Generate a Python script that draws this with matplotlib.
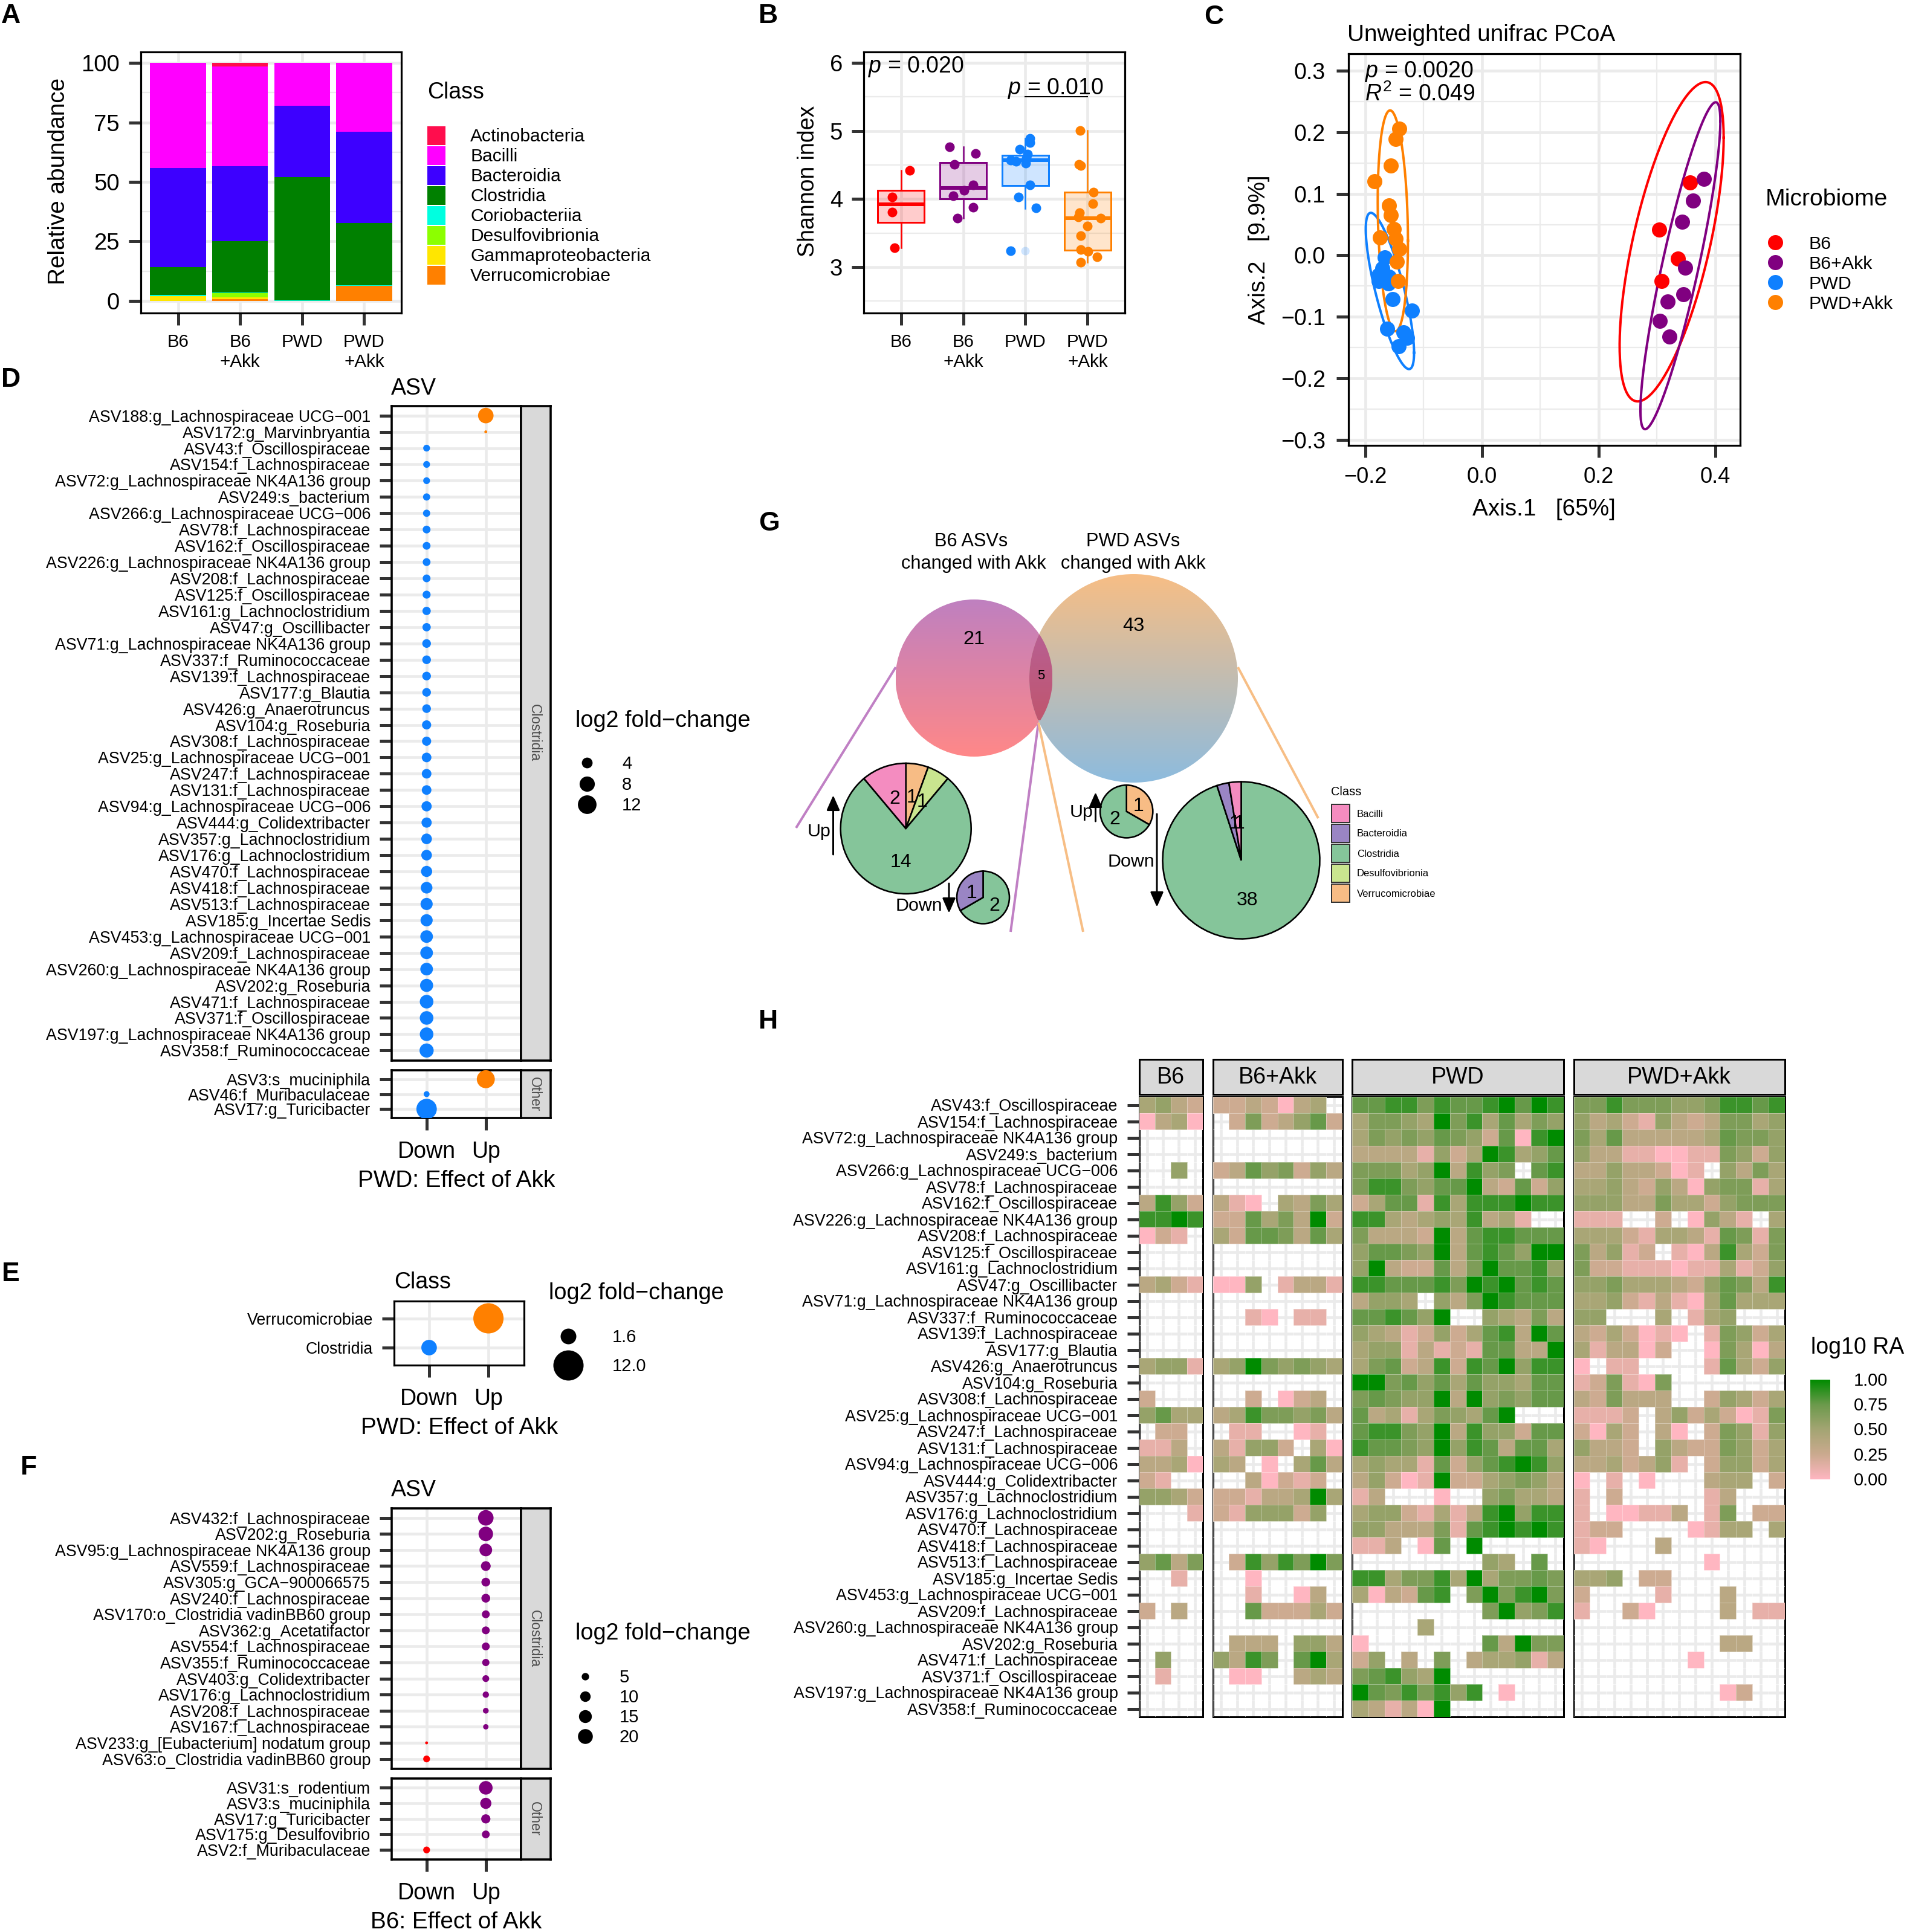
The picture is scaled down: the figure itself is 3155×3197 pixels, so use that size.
import numpy as np
import matplotlib
matplotlib.use("Agg")
import matplotlib.pyplot as plt
from matplotlib.patches import Rectangle, Circle, PathPatch
from matplotlib.path import Path
from matplotlib.colors import LinearSegmentedColormap

W, H, DPI = 3155, 3197, 300
plt.rcParams.update({
    'font.family': ['Liberation Sans', 'DejaVu Sans'], 'axes.unicode_minus': True,
    'mathtext.fontset': 'custom', 'mathtext.rm': 'Liberation Sans',
    'mathtext.it': 'Liberation Sans:italic', 'mathtext.bf': 'Liberation Sans:bold',
})
px = 72 / DPI
GRID, TICK = '#EBEBEB', '#333333'

# ---------- data ----------
classes = ['Actinobacteria', 'Bacilli', 'Bacteroidia', 'Clostridia', 'Coriobacteriia',
           'Desulfovibrionia', 'Gammaproteobacteria', 'Verrucomicrobiae']
class_cols = ['#FF0D4D', '#FF00FF', '#3D00FF', '#008000', '#00FFE0', '#8CFF00', '#FFE600', '#FF8000']
groups = ['B6', 'B6\n+Akk', 'PWD', 'PWD\n+Akk']
grp_cols = ['#FF0000', '#800080', '#0F80FF', '#FF8000']
ab_verr = [0, 0.8, 0, 6.3]
ab_gamma = [2.0, 0.8, 0, 0]
ab_desulf = [0.05, 1.6, 0, 0]
ab_corio = [0.35, 0.3, 0.2, 0.2]
ab_clost = [11.9, 21.5, 51.8, 26.2]
ab_bacter = [41.6, 31.6, 30.0, 38.3]
ab_bacil = [44.1, 42.0, 18.0, 29.0]
ab_actino = [0, 1.4, 0, 0]

sh_x = [[0.86, 1.14, 0.86, 0.90],
        [1.78, 2.20, 1.86, 2.16, 2.01, 1.84, 2.16, 1.91],
        [3.07, 3.07, 2.91, 3.03, 3.02, 2.76, 2.85, 3.01, 3.07, 2.89, 3.17, 2.76],
        [3.88, 3.86, 3.89, 4.09, 4.08, 3.87, 3.85, 4.21, 4.00, 3.89, 3.89, 4.01, 4.15, 3.89]]
sh_y = [[4.03, 4.42, 3.81, 3.28],
        [4.77, 4.67, 4.51, 4.21, 4.13, 4.05, 3.88, 3.72],
        [4.89, 4.83, 4.73, 4.66, 4.60, 4.57, 4.55, 4.53, 4.21, 4.03, 3.87, 3.24],
        [5.01, 4.51, 4.49, 4.10, 3.93, 3.80, 3.74, 3.72, 3.60, 3.46, 3.26, 3.23, 3.15, 3.07]]
box_q1 = [3.66, 4.00, 4.20, 3.25]
box_med = [3.92, 4.16, 4.57, 3.72]
box_q3 = [4.13, 4.54, 4.64, 4.10]
box_lo = [3.28, 3.72, 3.86, 3.07]
box_hi = [4.42, 4.77, 4.89, 5.01]
box_out = [[], [], [3.24], []]

pc_x = [[0.356, 0.304, 0.336, 0.308],
        [0.380, 0.362, 0.343, 0.348, 0.345, 0.318, 0.305, 0.321],
        [-0.167, -0.171, -0.177, -0.160, -0.177, -0.161, -0.153, -0.120, -0.163, -0.135, -0.129, -0.143],
        [-0.142, -0.148, -0.156, -0.184, -0.160, -0.156, -0.151, -0.148, -0.175, -0.142, -0.146, -0.144]]
pc_y = [[0.118, 0.042, -0.005, -0.042],
        [0.124, 0.089, 0.054, -0.020, -0.063, -0.075, -0.107, -0.132],
        [-0.004, -0.021, -0.032, -0.035, -0.042, -0.046, -0.071, -0.090, -0.119, -0.125, -0.134, -0.148],
        [0.206, 0.189, 0.146, 0.120, 0.081, 0.065, 0.043, 0.027, 0.029, 0.010, -0.010, -0.042]]
ell_cx = [0.325, 0.340, -0.158, -0.153]
ell_cy = [0.022, -0.017, -0.058, 0.056]
ell_rx = [0.0892, 0.0685, 0.0414, 0.0259]
ell_ry = [0.2595, 0.2657, 0.1270, 0.1795]
ell_r = [0.652, 0.884, -0.79, -0.18]
micro = ['B6', 'B6+Akk', 'PWD', 'PWD+Akk']

d_clost = ['ASV188:g_Lachnospiraceae UCG\u2212001', 'ASV172:g_Marvinbryantia', 'ASV43:f_Oscillospiraceae',
           'ASV154:f_Lachnospiraceae', 'ASV72:g_Lachnospiraceae NK4A136 group', 'ASV249:s_bacterium',
           'ASV266:g_Lachnospiraceae UCG\u2212006', 'ASV78:f_Lachnospiraceae', 'ASV162:f_Oscillospiraceae',
           'ASV226:g_Lachnospiraceae NK4A136 group', 'ASV208:f_Lachnospiraceae', 'ASV125:f_Oscillospiraceae',
           'ASV161:g_Lachnoclostridium', 'ASV47:g_Oscillibacter', 'ASV71:g_Lachnospiraceae NK4A136 group',
           'ASV337:f_Ruminococcaceae', 'ASV139:f_Lachnospiraceae', 'ASV177:g_Blautia', 'ASV426:g_Anaerotruncus',
           'ASV104:g_Roseburia', 'ASV308:f_Lachnospiraceae', 'ASV25:g_Lachnospiraceae UCG\u2212001',
           'ASV247:f_Lachnospiraceae', 'ASV131:f_Lachnospiraceae', 'ASV94:g_Lachnospiraceae UCG\u2212006',
           'ASV444:g_Colidextribacter', 'ASV357:g_Lachnoclostridium', 'ASV176:g_Lachnoclostridium',
           'ASV470:f_Lachnospiraceae', 'ASV418:f_Lachnospiraceae', 'ASV513:f_Lachnospiraceae',
           'ASV185:g_Incertae Sedis', 'ASV453:g_Lachnospiraceae UCG\u2212001', 'ASV209:f_Lachnospiraceae',
           'ASV260:g_Lachnospiraceae NK4A136 group', 'ASV202:g_Roseburia', 'ASV471:f_Lachnospiraceae',
           'ASV371:f_Oscillospiraceae', 'ASV197:g_Lachnospiraceae NK4A136 group', 'ASV358:f_Ruminococcaceae']
d_clost_fc = [8.3, 0.3, 1.6, 1.6, 1.6, 1.8, 1.8, 2.1, 2.1, 2.1, 2.1, 2.2, 2.4, 2.4, 2.6, 2.6, 2.6, 2.6, 2.6, 2.9,
              2.9, 3.2, 3.2, 3.2, 3.6, 3.6, 3.9, 3.9, 4.3, 4.7, 5.1, 5.1, 5.5, 5.5, 5.5, 5.9, 6.4, 6.4, 6.4, 6.9]
d_clost_up = [1, 1] + [0] * 38
d_other = ['ASV3:s_muciniphila', 'ASV46:f_Muribaculaceae', 'ASV17:g_Turicibacter']
d_other_fc = [11.2, 1.2, 14.4]
d_other_up = [1, 0, 0]

f_clost = ['ASV432:f_Lachnospiraceae', 'ASV202:g_Roseburia', 'ASV95:g_Lachnospiraceae NK4A136 group',
           'ASV559:f_Lachnospiraceae', 'ASV305:g_GCA\u2212900066575', 'ASV240:f_Lachnospiraceae',
           'ASV170:o_Clostridia vadinBB60 group', 'ASV362:g_Acetatifactor', 'ASV554:f_Lachnospiraceae',
           'ASV355:f_Ruminococcaceae', 'ASV403:g_Colidextribacter', 'ASV176:g_Lachnoclostridium',
           'ASV208:f_Lachnospiraceae', 'ASV167:f_Lachnospiraceae', 'ASV233:g_[Eubacterium] nodatum group',
           'ASV63:o_Clostridia vadinBB60 group']
f_clost_fc = [21.8, 19, 14.5, 8.6, 7, 7, 5.6, 5.6, 5.6, 4.8, 4.2, 3.6, 3, 2.6, 0.76, 4.2]
f_clost_up = [1] * 14 + [0, 0]
f_other = ['ASV31:s_rodentium', 'ASV3:s_muciniphila', 'ASV17:g_Turicibacter', 'ASV175:g_Desulfovibrio',
           'ASV2:f_Muribaculaceae']
f_other_fc = [16.7, 11.3, 7.7, 5.5, 4.2]
f_other_up = [1, 1, 1, 1, 0]

e_class = ['Verrucomicrobiae', 'Clostridia']
e_px = [50, 25.7]
e_up = [1, 0]

hm_labels = d_clost[2:]
hm_b6 = ['4532', '0340', '....', '....', '..5.', '....', '3852', '8898', '021.', '....', '....', '3421', '....',
         '....', '....', '....', '4551', '....', '2...', '5744', '.22.', '113.', '3340', '21..', '5542', '...1',
         '....', '....', '5736', '..1.', '....', '2.3.', '....', '....', '.5..', '.1..', '....', '....']
hm_b6a = ['2232034.', '.2623572', '........', '........', '23756253', '........', '310.4364', '22746392',
          '42776374', '........', '........', '005.1331', '........', '..10.11.', '........', '........',
          '45965654', '........', '..2.023.', '34866563', '.11..01.', '31552.40', '43.0.473', '..30212.',
          '22133494', '2155525.', '........', '........', '.2858696', '..0.....', '..1..03.', '..722242',
          '........', '.333.553', '5386.794', '.00..343', '........', '........']
hm_pwd = ['7788687789798', '4665496847465', '4656576527089', '3333152498457', '6664593856.78', '6886577932725',
          '2477184888988', '88434548341..', '6333293788777', '5776593787599', '5932273697785', '8877786989787',
          '3554.53698777', '778759..54363', '5431252478397', '4551312177339', '4672382879588', '9967574755477',
          '6765593956577', '7341465479...', '7886593855277', '8776595873774', '4544172578985', '3520192245653',
          '13...0..56443', '4552141389588', '5533361789898', '113.07.9.....', '........54.7.', '8846684946676',
          '403278.696896', '........69568', '....4........', '0.......73966', '25.3.6.344513', '678549.......',
          '97686858.0...', '431309.......']
hm_pwa = ['6686665568878', '5342153236645', '6473333347665', '5331100116525', '33533201.5364', '4453253056614',
          '5553364425666', '111..2.0531.4', '4442144317616', '63512.1038426', '6221110114125', '5564443257638',
          '4452131047444', '55...4.145...', '3242010.16524', '413302..06403', '0.11....17425', '126106.......',
          '326333..25424', '1112.35242016', '2042.30.26515', '5332.53226524', '3342351.25524', '0.1.0...344.2',
          '1.2.....13...', '1.00113.16.22', '122....0144.4', '10...3.......', '........0....', '445.22.......',
          '2....1...3...', '1..20....3.11', '.............', '.........33..', '.......0.....', '.............',
          '.........02..', '.............']
hm_levels = [0.0, 0.12, 0.24, 0.36, 0.47, 0.57, 0.67, 0.76, 0.86, 1.0]

pie_b6_up = [1, 1, 14, 2]
pie_b6_dn = [2, 1]
pie_pwd_up = [1, 2]
pie_pwd_dn = [38, 1, 1]
PIE = {'Bacilli': '#F48CC0', 'Bacteroidia': '#9A85C4', 'Clostridia': '#85C59A',
       'Desulfovibrionia': '#C9E58F', 'Verrucomicrobiae': '#F7BC85'}

cmap = LinearSegmentedColormap.from_list('ra', [(0, '#FFB6C1'), (.25, '#CBAA8F'), (.5, '#A4A573'),
                                                (.75, '#6C9A4C'), (1, '#008B00')])

# ---------- helpers ----------
fig = plt.figure(figsize=(W / DPI, H / DPI), dpi=DPI, facecolor='white')


def box(l, t, r, b, **kw):
    return fig.add_axes([l / W, 1 - b / H, (r - l) / W, (b - t) / H], **kw)


def style(ax, fs_x=9.2, fs_y=9.2, lw=3.2):
    for s in ax.spines.values():
        s.set_linewidth(lw * px)
        s.set_color('black')
    ax.tick_params(axis='both', which='major', length=20 * px, width=5 * px, color=TICK, pad=15 * px)
    ax.tick_params(axis='x', labelsize=fs_x)
    ax.tick_params(axis='y', labelsize=fs_y)
    ax.tick_params(axis='both', which='minor', length=0)
    ax.set_axisbelow(True)
    ax.grid(True, which='major', color=GRID, lw=4.6 * px)
    ax.grid(True, which='minor', color=GRID, lw=2.3 * px)


ov = fig.add_axes([0, 0, 1, 1], zorder=5)
ov.set_xlim(0, W)
ov.set_ylim(H, 0)
ov.axis('off')
ov.patch.set_alpha(0)


def T(x, y, s, fs=9, ha='left', va='center', **kw):
    return ov.text(x, y + 3, s, fontsize=fs, ha=ha, va=va, **kw)


def dia(d):
    return (d * px) ** 2


for lab, x, y in zip('ABCDEFGH', [2, 1255, 1992, 2, 3, 34, 1255, 1255], [24, 24, 25, 625, 2106, 2426, 864, 1687]):
    T(x, y, lab, fs=10.7, fontweight='bold')

# ---------- A ----------
ax = box(233, 86, 664, 517.5)
style(ax)
xs = np.arange(1, 5)
bot = np.zeros(4)
stack = [ab_verr, ab_gamma, ab_desulf, ab_corio, ab_clost, ab_bacter, ab_bacil, ab_actino]
for v, c in zip(stack, class_cols[::-1]):
    ax.bar(xs, v, 0.9, bottom=bot, color=c, lw=0)
    bot = bot + np.array(v)
ax.set_xlim(0.4, 4.6)
ax.set_ylim(-5, 104.6)
ax.set_xticks(xs, groups, fontsize=7.1)
ax.set_yticks([0, 25, 50, 75, 100])
ax.set_yticks([12.5, 37.5, 62.5, 87.5], minor=True)
T(97, 297, 'Relative abundance', fs=9.3, rotation=90, ha='center')
T(707, 150, 'Class', fs=9)
for i, (n, c) in enumerate(zip(classes, class_cols)):
    ov.add_patch(Rectangle((707, 209 + 33.05 * i), 30, 30.6, color=c, lw=0))
    T(778, 223 + 33.05 * i, n, fs=7.2)

# ---------- B ----------
ax = box(1429, 86, 1861, 517.5)
style(ax)
for i in range(4):
    stats = [dict(med=box_med[i], q1=box_q1[i], q3=box_q3[i], whislo=box_lo[i], whishi=box_hi[i], fliers=box_out[i])]
    c = grp_cols[i]
    ax.bxp(stats, positions=[i + 1], widths=0.75, patch_artist=True, showcaps=False,
           boxprops=dict(facecolor=matplotlib.colors.to_rgba(c, .2), edgecolor=c, lw=3 * px),
           medianprops=dict(color=c, lw=6 * px), whiskerprops=dict(color=c, lw=2.5 * px),
           flierprops=dict(marker='o', ms=14 * px, mfc=matplotlib.colors.to_rgba(c, .2), mec='none'),
           manage_ticks=False)
    ax.scatter(sh_x[i], sh_y[i], s=dia(16), color=c, lw=0, zorder=4)
ax.set_xlim(0.4, 4.6)
ax.set_ylim(2.33, 6.16)
ax.set_xticks(xs, groups, fontsize=7.1)
ax.set_yticks([3, 4, 5, 6])
ax.set_yticks([2.5, 3.5, 4.5, 5.5], minor=True)
ax.plot([3, 4], [5.5, 5.5], color='black', lw=2 * px, zorder=5)
T(1436, 107, r'$\mathit{p}$ = 0.020', fs=9)
T(1667, 144, r'$\mathit{p}$ = 0.010', fs=9)
T(1337, 297, 'Shannon index', fs=9, rotation=90, ha='center')

# ---------- C ----------
ax = box(2231, 89, 2879, 737)
style(ax, fs_x=8.7, fs_y=9.0)
ax.tick_params(axis='y', pad=18 * px)
t = np.linspace(0, 2 * np.pi, 200)
for i in range(4):
    d = np.arccos(ell_r[i])
    ax.plot(ell_cx[i] + ell_rx[i] * np.cos(t), ell_cy[i] + ell_ry[i] * np.cos(t - d), color=grp_cols[i], lw=4 * px)
for i in [0, 1, 2, 3]:
    ax.scatter(pc_x[i], pc_y[i], s=dia(25), color=grp_cols[i], lw=0, zorder=4)
ax.set_xlim(-0.229, 0.4425)
ax.set_ylim(-0.309, 0.3275)
ax.set_xticks([-.2, 0, .2, .4], ['\u22120.2', '0.0', '0.2', '0.4'])
ax.set_xticks([-.1, .1, .3], minor=True)
ax.set_yticks([-.3, -.2, -.1, 0, .1, .2, .3], ['\u22120.3', '\u22120.2', '\u22120.1', '0.0', '0.1', '0.2', '0.3'])
ax.set_yticks([-.25, -.15, -.05, .05, .15, .25], minor=True)
T(2229, 55, 'Unweighted unifrac PCoA', fs=9.3)
T(2258, 115, r'$\mathit{p}$ = 0.0020', fs=9)
T(2258, 153, r'$\mathit{R}^2$ = 0.049', fs=9)
T(2554, 840, 'Axis.1   [65%]', fs=9.3, ha='center')
T(2083, 410, 'Axis.2   [9.9%]', fs=9.3, rotation=90, ha='center')
T(2921, 327, 'Microbiome', fs=9.4)
for i, (m, y) in enumerate(zip(micro, [401, 434, 467, 500])):
    ov.scatter([2937], [y], s=dia(25), color=grp_cols[i], lw=0)
    T(2992, y, m, fs=7.3)


# ---------- D / F ----------
def dots(t, b, labels, fc, up, k, down_col, up_col, strip, xtick=False):
    ax = box(648, t, 862, b)
    style(ax, fs_x=9, fs_y=6.43, lw=3.6)
    n = len(labels)
    y = np.arange(n)
    ax.scatter(np.array(up) + 1, y, s=dia(k * np.sqrt(np.array(fc))),
               c=[up_col if u else down_col for u in up], lw=0, zorder=4)
    ax.set_xlim(0.41, 2.595)
    ax.set_ylim(n - 1 + .6, -.6)
    ax.set_yticks(y, labels)
    ax.set_xticks([1, 2], ['Down', 'Up'] if xtick else ['', ''])
    if not xtick:
        ax.tick_params(axis='x', length=0)
    ax.tick_params(axis='x', pad=18 * px)
    sa = box(862, t, 910.5, b)
    sa.set_facecolor('#D9D9D9')
    sa.set_xticks([])
    sa.set_yticks([])
    for s in sa.spines.values():
        s.set_linewidth(3.6 * px)
    sa.text(.47, .5, strip, rotation=270, ha='center', va='center', fontsize=5.5, color='#4D4D4D',
            transform=sa.transAxes)
    return ax


dots(671.5, 1754.5, d_clost, d_clost_fc, d_clost_up, 8.9, grp_cols[2], grp_cols[3], 'Clostridia')
dots(1771, 1850, d_other, d_other_fc, d_other_up, 8.9, grp_cols[2], grp_cols[3], 'Other', True)
T(647, 640, 'ASV', fs=9)
T(755, 1951, 'PWD: Effect of Akk', fs=9.3, ha='center')
T(952, 1190, 'log2 fold\u2212change', fs=9.1)
for v, y in zip([4, 8, 12], [1262, 1297, 1331]):
    ov.scatter([971], [y], s=dia(8.9 * np.sqrt(v)), color='black', lw=0)
    T(1029, y - 1, str(v), fs=7)

dots(2495.7, 2926.6, f_clost, f_clost_fc, f_clost_up, 5.5, grp_cols[0], grp_cols[1], 'Clostridia')
dots(2943, 3076.6, f_other, f_other_fc, f_other_up, 5.5, grp_cols[0], grp_cols[1], 'Other', True)
T(647, 2463.5, 'ASV', fs=9)
T(755, 3178, 'B6: Effect of Akk', fs=9.3, ha='center')
T(952, 2700, 'log2 fold\u2212change', fs=9.1)
for v, y in zip([5, 10, 15, 20], [2773.6, 2806.7, 2839.8, 2872.6]):
    ov.scatter([967.5], [y], s=dia(5.5 * np.sqrt(v)), color='black', lw=0)
    T(1024.6, y - 1, str(v), fs=7)

# ---------- E ----------
ax = box(652, 2152.5, 867, 2259)
style(ax, fs_x=9, fs_y=6.43, lw=3.2)
ax.scatter(np.array(e_up) + 1, [0, 1], s=dia(np.array(e_px)), c=[grp_cols[3], grp_cols[2]], lw=0, zorder=4)
ax.set_xlim(0.41, 2.6)
ax.set_ylim(1.6, -.6)
ax.set_yticks([0, 1], e_class)
ax.set_xticks([1, 2], ['Down', 'Up'])
ax.tick_params(axis='x', pad=18 * px)
T(652, 2119, 'Class', fs=9)
T(760, 2360, 'PWD: Effect of Akk', fs=9.3, ha='center')
T(908, 2137, 'log2 fold\u2212change', fs=9.1)
for v, d, y in zip(['1.6', '12.0'], [26, 50], [2211, 2259]):
    ov.scatter([940], [y], s=dia(d), color='black', lw=0)
    T(1012.5, y - 1, v, fs=7)

# ---------- G ----------
LC, RC = (1611.5, 1122), (1875.5, 1122.5)
LR, RR = 130, 172.5


def grad(c, r, top, bottom, clip):
    top = np.array(matplotlib.colors.to_rgb(top))
    bottom = np.array(matplotlib.colors.to_rgb(bottom))
    f = np.linspace(0, 1, 256)[:, None, None]
    img = top[None, None, :] * (1 - f) + bottom[None, None, :] * f
    im = ov.imshow(img, extent=[c[0] - r, c[0] + r, c[1] + r, c[1] - r], aspect='auto', zorder=1)
    ov.add_patch(clip)
    clip.set_visible(False)
    im.set_clip_path(clip)


grad(LC, LR, '#BF80C0', '#FF8888', Circle(LC, LR, transform=ov.transData))
grad(RC, RR, '#F7BE85', '#8DBBDE', Circle(RC, RR, transform=ov.transData))
dd = RC[0] - LC[0]
a = (dd ** 2 + LR ** 2 - RR ** 2) / (2 * dd)
ang1 = np.arccos(a / LR)
ang2 = np.arccos((dd - a) / RR)
th1 = np.linspace(-ang1, ang1, 60)
th2 = np.linspace(np.pi - ang2, np.pi + ang2, 60)
lens = np.r_[np.c_[LC[0] + LR * np.cos(th1), LC[1] + LR * np.sin(th1)],
             np.c_[RC[0] + RR * np.cos(th2), RC[1] + RR * np.sin(th2)]]
top_l = np.array(matplotlib.colors.to_rgb('#B85F92'))
bot_l = np.array(matplotlib.colors.to_rgb('#C0566E'))
f = np.linspace(0, 1, 256)[:, None, None]
im = ov.imshow(top_l[None, None, :] * (1 - f) + bot_l[None, None, :] * f,
               extent=[1703, 1741, 1192, 1050], aspect='auto', zorder=1.1)
lp = PathPatch(Path(np.r_[lens, lens[:1]], closed=True), transform=ov.transData, visible=False)
ov.add_patch(lp)
im.set_clip_path(lp)
ov.set_xlim(0, W)
ov.set_ylim(H, 0)

for (x0, y0, x1, y1), c in zip([(1482, 1104, 1317, 1370), (1718, 1196, 1672, 1542),
                                (2048, 1104, 2181, 1354), (1718, 1196, 1792, 1542)],
                               ['#C080C4', '#C080C4', '#F7BE85', '#F7BE85']):
    ov.plot([x0, x1], [y0, y1], color=c, lw=4 * px, zorder=2, solid_capstyle='butt')

for x, y, s in [(1607, 893, 'B6 ASVs'), (1611, 930, 'changed with Akk'), (1875, 893, 'PWD ASVs'),
                (1875, 930, 'changed with Akk')]:
    T(x, y, s, fs=7.4, ha='center', zorder=3)
T(1611, 1055, '21', fs=7.8, ha='center', zorder=3)
T(1875, 1033, '43', fs=7.8, ha='center', zorder=3)
T(1722, 1115, '5', fs=5.3, ha='center', zorder=3)


def pie(cx, cy, r, vals, cols):
    a = box(cx - r * 1.03, cy - r * 1.03, cx + r * 1.03, cy + r * 1.03, zorder=6)
    a.pie(vals, colors=cols, startangle=90, counterclock=False, radius=1,
          wedgeprops=dict(edgecolor='black', lw=2.6 * px, clip_on=False))
    a.set_xlim(-1.03, 1.03)
    a.set_ylim(-1.03, 1.03)
    a.patch.set_alpha(0)


pie(1498.7, 1371, 108, pie_b6_up, [PIE['Verrucomicrobiae'], PIE['Desulfovibrionia'], PIE['Clostridia'], PIE['Bacilli']])
pie(1626.5, 1485, 43.5, pie_b6_dn, [PIE['Clostridia'], PIE['Bacteroidia']])
pie(1863.7, 1342.8, 43.6, pie_pwd_up, [PIE['Verrucomicrobiae'], PIE['Clostridia']])
pie(2053.5, 1423.6, 130, pie_pwd_dn, [PIE['Clostridia'], PIE['Bacteroidia'], PIE['Bacilli']])

ovt = fig.add_axes([0, 0, 1, 1], zorder=7)
ovt.set_xlim(0, W)
ovt.set_ylim(H, 0)
ovt.axis('off')
ovt.patch.set_alpha(0)
for x, y, s in [(1480, 1322, '2'), (1508, 1320, '1'), (1525, 1327, '1'), (1490, 1427, '14'), (1607, 1478, '1'),
                (1645, 1499, '2'), (1883, 1334, '1'), (1844, 1356, '2'), (2042, 1363, '1'), (2050, 1363, '1'),
                (2064, 1490, '38')]:
    ovt.text(x, y, s, fontsize=7.7, ha='center', va='center')
for x, y, s in [(1355, 1376, 'Up'), (1520, 1499, 'Down'), (1789, 1344, 'Up'), (1871, 1426, 'Down')]:
    ovt.text(x, y, s, fontsize=7.3, ha='center', va='center')
for x, y0, y1 in [(1378.5, 1414, 1316), (1570, 1462, 1511), (1812.5, 1359, 1311), (1914, 1347, 1501)]:
    ovt.annotate('', xy=(x, y1), xytext=(x, y0),
                 arrowprops=dict(arrowstyle='-|>,head_width=0.22,head_length=0.5', color='black', lw=3 * px,
                                 shrinkA=0, shrinkB=0))
T(2202, 1307, 'Class', fs=4.8)
for i, (n, c) in enumerate(PIE.items()):
    ov.add_patch(Rectangle((2202.7, 1331 + 33 * i), 30, 30, fc=c, ec='#333333', lw=2 * px))
    T(2245, 1344 + 33 * i, n, fs=4)

# ---------- H ----------
panels = [('B6', hm_b6, 1884.5, 1990), ('B6+Akk', hm_b6a, 2006.6, 2220.6),
          ('PWD', hm_pwd, 2237.4, 2586.8), ('PWD+Akk', hm_pwa, 2603.6, 2953)]
for i, (name, rows, l, r) in enumerate(panels):
    arr = np.array([[np.nan if ch == '.' else hm_levels[int(ch)] for ch in row] for row in rows])
    ax = box(l, 1815, r, 2841)
    style(ax, lw=3)
    ax.pcolormesh(np.arange(arr.shape[1] + 1) - .5, np.arange(39) - .5, np.ma.masked_invalid(arr), cmap=cmap,
                  vmin=0, vmax=1, edgecolors=(1, 1, 1, .35), linewidth=1 * px, zorder=3)
    ax.set_xlim(-.5, arr.shape[1] - .5)
    ax.set_ylim(37.5, -.5)
    ax.set_xticks(np.arange(arr.shape[1]), [''] * arr.shape[1])
    ax.tick_params(axis='x', length=0)
    ax.set_yticks(np.arange(38), hm_labels if i == 0 else [''] * 38)
    if i:
        ax.tick_params(axis='y', length=0)
    else:
        ax.tick_params(axis='y', labelsize=6.43)
    sa = box(l, 1753, r, 1811)
    sa.set_facecolor('#D9D9D9')
    sa.set_xticks([])
    sa.set_yticks([])
    for s in sa.spines.values():
        s.set_linewidth(3 * px)
    sa.text(.5, .48, name, ha='center', va='center', fontsize=9, transform=sa.transAxes)

T(2996, 2227, 'log10 RA', fs=9)
cb = box(2995, 2283, 3027.7, 2447.7)
cb.imshow(np.linspace(1, 0, 256)[:, None], cmap=cmap, aspect='auto', extent=[0, 1, 0, 1], vmin=0, vmax=1)
cb.axis('off')
for v, y in zip(['1.00', '0.75', '0.50', '0.25', '0.00'], [2283, 2324, 2365, 2406.7, 2447.7]):
    T(3066.7, y - 1, v, fs=7)

fig.savefig('out.png', dpi=DPI, facecolor='white')
